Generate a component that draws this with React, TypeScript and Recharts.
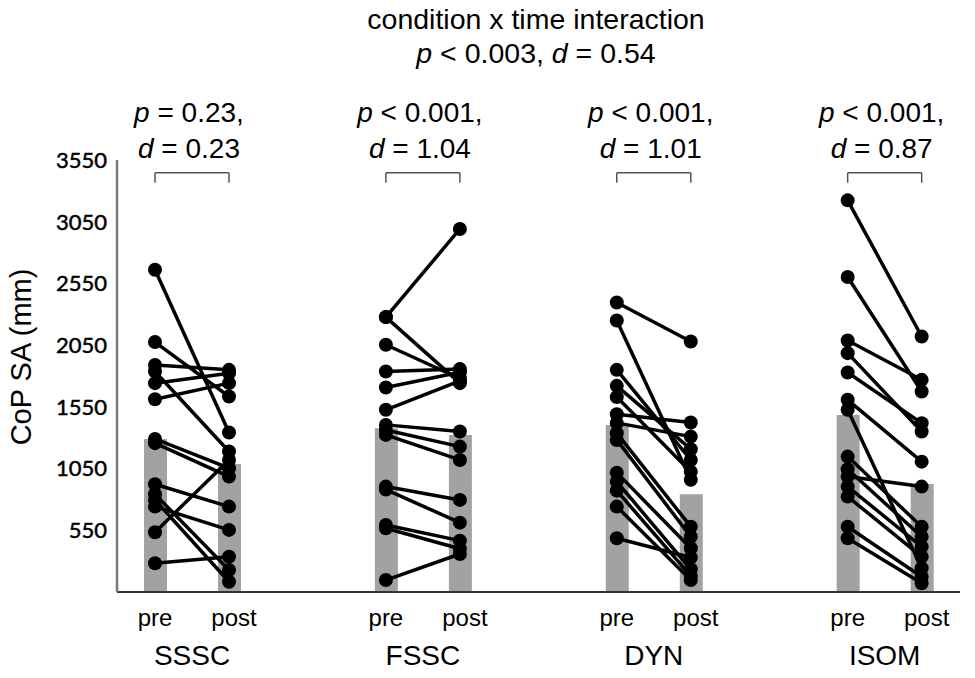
import React from 'react';
import {
  ComposedChart,
  Bar,
  Line,
  XAxis,
  YAxis,
  ReferenceLine,
} from 'recharts';

// categories
const GROUPS = ['SSSC', 'FSSC', 'DYN', 'ISOM'];
const TIMES = ['pre', 'post'];

// group means (grey bars)
const MEAN_PRE = [1290, 1377, 1404, 1485];
const MEAN_POST = [1088, 1323, 842, 926];

// individual subjects, pre -> post (same index = same subject)
const SSSC_PRE = [2661, 2075, 1890, 1836, 1742, 1612, 1290, 1256, 923, 842, 796, 742, 534, 283];
const SSSC_POST = [1342, 1634, 1850, 1188, 1823, 1742, 1053, 985, 742, 228, 133, 553, 1120, 336];
const FSSC_PRE = [2277, 2277, 2053, 1836, 1707, 1526, 1404, 1363, 1323, 904, 880, 593, 566, 147];
const FSSC_POST = [2991, 1742, 1780, 1856, 1830, 1760, 1350, 1228, 1120, 796, 612, 466, 400, 358];
const DYN_PRE = [2396, 2250, 1850, 1720, 1629, 1491, 1420, 1337, 1282, 1017, 944, 871, 742, 485];
const DYN_POST = [2080, 960, 1120, 1207, 1025, 1423, 1309, 579, 498, 404, 234, 180, 147, 330];
const ISOM_PRE = [3223, 2602, 2088, 1985, 1828, 1607, 1526, 1147, 1045, 985, 904, 823, 579, 485];
const ISOM_POST = [2120, 1674, 1769, 1350, 1418, 1106, 242, 579, 498, 904, 417, 336, 174, 120];

const PRE_VALUES = [SSSC_PRE, FSSC_PRE, DYN_PRE, ISOM_PRE];
const POST_VALUES = [SSSC_POST, FSSC_POST, DYN_POST, ISOM_POST];

// stats text
const P_SIGNS = ['=', '<', '<', '<'];
const P_VALUES = ['0.23', '0.001', '0.001', '0.001'];
const D_VALUES = ['0.23', '1.04', '1.01', '0.87'];
const TITLE = 'condition x time interaction';
const TITLE_P = '0.003';
const TITLE_D = '0.54';

const Y_TICKS = [550, 1050, 1550, 2050, 2550, 3050, 3550];
const Y_DOMAIN: [number, number] = [50, 3550];
const BRACKET_TOP = 3447;
const BRACKET_LEG = 3366;

// x layout (pre = 0, post = 1 within a group)
const GROUP_STEP = 3.12;
const X_DOMAIN: [number, number] = [-0.5135, 10.878];
const pos = (g: number, t: number) => g * GROUP_STEP + t;

const FONT = '"Liberation Sans", Arial, sans-serif';
const BAR_GREY = '#a2a2a2';

const barRows = GROUPS.flatMap((_, g) => [
  { x: pos(g, 0), mean: MEAN_PRE[g] },
  { x: pos(g, 1), mean: MEAN_POST[g] },
]);

const tickLabels = new Map<string, { text: string; kind: string }>();
GROUPS.forEach((name, g) => {
  tickLabels.set(pos(g, 0).toFixed(3), { text: TIMES[0], kind: 'time' });
  tickLabels.set(pos(g, 0.5).toFixed(3), { text: name, kind: 'group' });
  tickLabels.set(pos(g, 1).toFixed(3), { text: TIMES[1], kind: 'time' });
});
const X_TICKS = GROUPS.flatMap((_, g) => [pos(g, 0), pos(g, 0.5), pos(g, 1)]);

const XTick = ({ x, y, payload }: any) => {
  const lab = tickLabels.get(Number(payload.value).toFixed(3));
  if (!lab) return null;
  if (lab.kind === 'group') {
    return (
      <text x={x} y={y + 71} textAnchor="middle" fontFamily={FONT} fontSize={28} fill="#000">
        {lab.text}
      </text>
    );
  }
  return (
    <text x={x + (lab.text === 'post' ? 5 : 0)} y={y + 32} textAnchor="middle" fontFamily={FONT} fontSize={24} fill="#000">
      {lab.text}
    </text>
  );
};

// pixel helpers for the overlay text (same mapping as the plot area)
const PLOT_LEFT = 117;
const PLOT_RIGHT = 960;
const xPx = (v: number) =>
  PLOT_LEFT + ((v - X_DOMAIN[0]) / (X_DOMAIN[1] - X_DOMAIN[0])) * (PLOT_RIGHT - PLOT_LEFT);

export default function App() {
  return (
    <div style={{ position: 'absolute', left: 0, top: 0, width: 975, height: 678, background: '#fff' }}>
      <ComposedChart
        width={975}
        height={678}
        data={barRows}
        margin={{ top: 160, right: 15, bottom: 0, left: 17 }}
      >
        <XAxis
          dataKey="x"
          type="number"
          domain={X_DOMAIN}
          ticks={X_TICKS}
          tick={<XTick />}
          tickLine={false}
          tickSize={0}
          height={86}
          axisLine={{ stroke: '#333', strokeWidth: 2 }}
          interval={0}
        />
        <YAxis
          type="number"
          domain={Y_DOMAIN}
          ticks={Y_TICKS}
          width={100}
          tickLine={false}
          tickSize={0}
          tickMargin={10}
          axisLine={{ stroke: '#777', strokeWidth: 2.5 }}
          tick={{ fill: '#000', stroke: '#000', strokeWidth: 0.5, fontSize: 22, fontFamily: 'Lato, "Open Sans", sans-serif' }}
        />
        <Bar dataKey="mean" fill={BAR_GREY} barSize={23} isAnimationActive={false} />
        {GROUPS.map((_, g) =>
          PRE_VALUES[g].map((pre, i) => (
            <Line
              key={`${g}-${i}`}
              data={[
                { x: pos(g, 0), y: pre },
                { x: pos(g, 1), y: POST_VALUES[g][i] },
              ]}
              dataKey="y"
              stroke="#000"
              strokeWidth={3.5}
              dot={{ r: 7, fill: '#000', stroke: '#000', strokeWidth: 0 }}
              activeDot={false}
              isAnimationActive={false}
            />
          ))
        )}
        {GROUPS.map((_, g) => (
          <ReferenceLine
            key={`bt-${g}`}
            segment={[{ x: pos(g, 0), y: BRACKET_TOP }, { x: pos(g, 1), y: BRACKET_TOP }]}
            stroke="#555"
            strokeWidth={1.5}
            ifOverflow="visible"
          />
        ))}
        {GROUPS.flatMap((_, g) =>
          [0, 1].map((t) => (
            <ReferenceLine
              key={`bl-${g}-${t}`}
              segment={[{ x: pos(g, t), y: BRACKET_TOP }, { x: pos(g, t), y: BRACKET_LEG }]}
              stroke="#555"
              strokeWidth={1.5}
              ifOverflow="visible"
            />
          ))
        )}
      </ComposedChart>

      <svg
        width={975}
        height={678}
        style={{ position: 'absolute', left: 0, top: 0, pointerEvents: 'none' }}
      >
        <g fontFamily={FONT} fontSize={28} fill="#000" textAnchor="middle">
          <text x={536} y={29} fontSize={28.5}>{TITLE}</text>
          <text x={536} y={63} fontSize={28.5}>
            <tspan fontStyle="italic">p</tspan> {'<'} {TITLE_P}, <tspan fontStyle="italic">d</tspan> = {TITLE_D}
          </text>
          {GROUPS.map((_, g) => {
            const cx = xPx(pos(g, 0.5)) - 3;
            return (
              <g key={g}>
                <text x={cx} y={122}>
                  <tspan fontStyle="italic">p</tspan> {P_SIGNS[g]} {P_VALUES[g]},
                </text>
                <text x={cx} y={158}>
                  <tspan fontStyle="italic">d</tspan> = {D_VALUES[g]}
                </text>
              </g>
            );
          })}
          <text transform="translate(31,357) rotate(-90)" fontSize={29}>CoP SA (mm)</text>
        </g>
      </svg>
    </div>
  );
}
